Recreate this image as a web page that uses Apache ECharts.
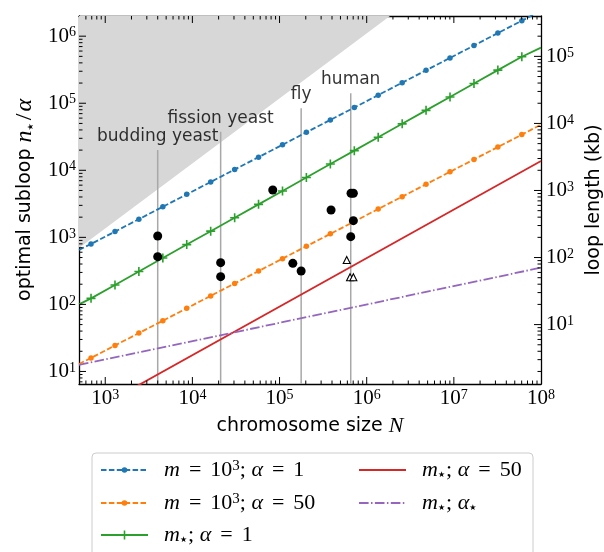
<!DOCTYPE html>
<html>
<head>
<meta charset="utf-8">
<script src="https://cdn.jsdelivr.net/npm/echarts@6/dist/echarts.min.js"></script>
<style>
  html, body { margin: 0; padding: 0; background: #fff; }
  #chart { width: 604px; height: 552px; }
</style>
</head>
<body>
<div id="chart"></div>
<script>
  // tick exponents (labels are 10^k)
  const xTickExp = [3, 4, 5, 6, 7, 8];
  const yTickExp = [1, 2, 3, 4, 5, 6];
  const kbTickExp = [1, 2, 3, 4, 5];

  // axis ranges; right axis is the left one in kb
  const xMin = 500, xMax = 1e8;
  const yMin = 6.5, yMax = 2e6;
  const kbPerUnit = 0.2;

  // marker positions shared by the three marked curves
  const markerN = [687, 1294, 2432, 4581, 8610, 16218, 30549, 57412, 108143, 203236,
    382825, 721107, 1355000, 2553000, 4797000, 9036000, 17020000, 31990000, 60260000];
  const blueY = [796, 1219, 1866, 2858, 4375, 6699, 10257, 15704, 24044, 36813,
    56364, 86298, 132130, 202302, 309742, 474242, 726106, 1111732, 1702159];
  const orangeY = [15.9, 24.4, 37.3, 57.1, 87.5, 134, 205, 314, 481, 736,
    1127, 1726, 2642, 4046, 6194, 9484, 14521, 22233, 34041];
  const greenY = [123, 195, 310, 492, 780, 1236, 1959, 3105, 4920, 7816,
    12388, 19634, 31117, 49317, 78343, 124165, 196789, 311889, 494311];
  // curve values at the left/right plot edges
  const edgeN = [500, 1e8];
  const blueEdgeY = [650, 2390000];
  const orangeEdgeY = [12.9, 47900];
  const greenEdgeY = [100, 676000];
  const redN = [500, 1e8];
  const redY = [2.0, 13800];
  const purpleN = [500, 1e5, 1e8];
  const purpleY = [12.5, 53.1, 353];
  // shaded forbidden region (above this line)
  const shadeN = [500, 1850000];
  const shadeY = [693, 2000000];

  // organisms
  const organisms = ['budding yeast', 'fission yeast', 'fly', 'human'];
  const orgN = [4000, 21100, 177000, 656000];
  const orgTop = [20100, 37700, 84100, 140600];
  const dotN = [4000, 4000, 21100, 21100, 83600, 142000, 177000, 390000, 661000, 703000, 703000, 656000];
  const dotY = [1047, 515, 419, 259, 5080, 410, 315, 2560, 4540, 4540, 1774, 1023];
  const triN = [590000, 644000, 703000];
  const triY = [459, 254, 254];

  const legendText = {
    blue: '{i|m}{op|=}10{sup|3}; {i|α}{op|=}1',
    orange: '{i|m}{op|=}10{sup|3}; {i|α}{op|=}50',
    green: '{i|m}{sub|★}; {i|α}{op|=}1',
    red: '{i|m}{sub|★}; {i|α}{op|=}50',
    purple: '{i|m}{sub|★}; {i|α}{sub|★}'
  };

  const SERIF = 'Liberation Serif';
  const SANS = 'DejaVu Sans';

  function pow10Label(exps) {
    return function (v) {
      const e = Math.round(Math.log10(v));
      if (Math.abs(Math.log10(v) - e) > 1e-6 || exps.indexOf(e) < 0) return '';
      return '{b|10}{sup|' + e + '}';
    };
  }
  const tickRich = {
    b: { fontFamily: SERIF, fontSize: 21, color: '#000' },
    sup: { fontFamily: SERIF, fontSize: 14, color: '#000', verticalAlign: 'top' }
  };

  // 1..9 x 10^k ticks strictly inside (lo, hi)
  function logTicks(lo, hi) {
    const out = [];
    for (let k = Math.floor(Math.log10(lo)); k <= Math.ceil(Math.log10(hi)); k++) {
      for (let m = 1; m <= 9; m++) {
        const v = m * Math.pow(10, k);
        if (v > lo && v < hi) out.push({ v: v, major: m === 1 ? 1 : 0 });
      }
    }
    return out;
  }

  function withEdges(xs, ys, ex, ey) {
    const pts = xs.map((x, i) => [x, ys[i]]);
    return [{ value: [ex[0], ey[0]], symbol: 'none' }]
      .concat(pts)
      .concat([{ value: [ex[1], ey[1]], symbol: 'none' }]);
  }

  const axisLine = { show: true, onZero: false, lineStyle: { color: '#000', width: 1.3 } };
  const MAJ = 7, MIN = 3.5;
  const tickStyle = { stroke: '#000', lineWidth: 1 };
  function tickLine(x1, y1, x2, y2) {
    return { type: 'line', shape: { x1: x1, y1: y1, x2: x2, y2: y2 }, style: tickStyle };
  }

  const chart = echarts.init(document.getElementById('chart'), null, { renderer: 'canvas' });

  const series = [];
  series.push({
    name: 'shade', type: 'line', z: 1, silent: true, symbol: 'none',
    data: shadeN.map((x, i) => [x, shadeY[i]]),
    lineStyle: { width: 0 },
    areaStyle: { origin: 'end', color: '#d7d7d7', opacity: 1 }
  });
  organisms.forEach((name, i) => {
    series.push({
      name: name, type: 'line', z: 2, silent: true, symbol: 'none',
      data: [[orgN[i], yMin], [orgN[i], orgTop[i]]],
      lineStyle: { color: '#a8a8a8', width: 1.5 }
    });
  });
  series.push({
    name: 'orgLabels', type: 'scatter', z: 6, silent: true, symbolSize: 0,
    data: organisms.map((name, i) => ({ name: name, value: [orgN[i], orgTop[i]] })),
    label: {
      show: true, position: 'top', distance: 5, formatter: '{b}',
      fontFamily: SANS, fontSize: 17, color: '#000'
    }
  });
  const plus = 'path://M4.1,0H5.9V4.1H10V5.9H5.9V10H4.1V5.9H0V4.1H4.1Z';
  series.push({
    name: 'blue', type: 'line', z: 3, data: withEdges(markerN, blueY, edgeN, blueEdgeY),
    symbol: 'circle', symbolSize: 5.5, showAllSymbol: true,
    itemStyle: { color: '#1f77b4', opacity: 1 },
    lineStyle: { color: '#1f77b4', width: 1.8, type: [5.5, 2.4] }
  });
  series.push({
    name: 'orange', type: 'line', z: 3, data: withEdges(markerN, orangeY, edgeN, orangeEdgeY),
    symbol: 'circle', symbolSize: 5.5, showAllSymbol: true,
    itemStyle: { color: '#ff7f0e', opacity: 1 },
    lineStyle: { color: '#ff7f0e', width: 1.8, type: [5.5, 2.4] }
  });
  series.push({
    name: 'green', type: 'line', z: 3, data: withEdges(markerN, greenY, edgeN, greenEdgeY),
    symbol: plus, symbolSize: 9, showAllSymbol: true,
    itemStyle: { color: '#2ca02c', opacity: 1 },
    lineStyle: { color: '#2ca02c', width: 1.8 }
  });
  series.push({
    name: 'red', type: 'line', z: 3, symbol: 'none',
    data: redN.map((x, i) => [x, redY[i]]),
    itemStyle: { color: '#d62728' },
    lineStyle: { color: '#d62728', width: 1.8 }
  });
  series.push({
    name: 'purple', type: 'line', z: 3, symbol: 'none',
    data: purpleN.map((x, i) => [x, purpleY[i]]),
    itemStyle: { color: '#9467bd' },
    lineStyle: { color: '#9467bd', width: 1.8, type: [9.6, 2.4, 1.5, 2.4] }
  });
  series.push({
    name: 'dots', type: 'scatter', z: 5, symbol: 'circle', symbolSize: 9,
    data: dotN.map((x, i) => [x, dotY[i]]),
    itemStyle: { color: '#000', opacity: 1 }
  });
  series.push({
    name: 'triangles', type: 'scatter', z: 5, symbol: 'triangle', symbolSize: 7,
    data: triN.map((x, i) => [x, triY[i]]),
    itemStyle: { color: '#fff', borderColor: '#000', borderWidth: 1.1, opacity: 1 }
  });

  // ticks, all pointing inward: bottom+top, left, right (kb)
  series.push({
    name: 'xTicks', type: 'custom', z: 7, silent: true, clip: false,
    encode: { x: 0, y: 1 },
    data: logTicks(xMin, xMax).map(t => [t.v, yMin, t.major]),
    renderItem: (params, api) => {
      const len = api.value(2) ? MAJ : MIN;
      const b = api.coord([api.value(0), yMin]);
      const t = api.coord([api.value(0), yMax]);
      return { type: 'group', children: [
        tickLine(b[0], b[1], b[0], b[1] - len),
        tickLine(t[0], t[1], t[0], t[1] + len)
      ] };
    }
  });
  series.push({
    name: 'yTicks', type: 'custom', z: 7, silent: true, clip: false,
    encode: { x: 0, y: 1 },
    data: logTicks(yMin, yMax).map(t => [xMin, t.v, t.major]),
    renderItem: (params, api) => {
      const len = api.value(2) ? MAJ : MIN;
      const p = api.coord([xMin, api.value(1)]);
      return tickLine(p[0], p[1], p[0] + len, p[1]);
    }
  });
  series.push({
    name: 'kbTicks', type: 'custom', z: 7, silent: true, clip: false,
    yAxisIndex: 1, encode: { x: 0, y: 1 },
    data: logTicks(yMin * kbPerUnit, yMax * kbPerUnit).map(t => [xMax, t.v, t.major]),
    renderItem: (params, api) => {
      const len = api.value(2) ? MAJ : MIN;
      const p = api.coord([xMax, api.value(1)]);
      return tickLine(p[0], p[1], p[0] - len, p[1]);
    }
  });

  const legendRich = {
    i: { fontFamily: SERIF, fontStyle: 'italic', fontSize: 22, color: '#000' },
    op: { fontFamily: SERIF, fontSize: 22, color: '#000', padding: [0, 9, 0, 9] },
    sup: { fontFamily: SERIF, fontSize: 15, color: '#000', verticalAlign: 'top' },
    sub: { fontFamily: SANS, fontSize: 8, color: '#000', verticalAlign: 'bottom', padding: [0, 1, 2, 0] }
  };
  // one legend component per entry so the two columns sit like the reference
  function legendItem(name, left, centerY, iconH, hideSymbol) {
    const l = {
      data: [name], orient: 'vertical', left: left, top: centerY - 13, padding: 0,
      itemWidth: 47, itemHeight: iconH, selectedMode: false,
      formatter: (n) => legendText[n],
      textStyle: { fontFamily: SERIF, fontSize: 22, color: '#000', padding: [0, 0, 0, 11], rich: legendRich }
    };
    if (hideSymbol) l.itemStyle = { color: 'rgba(0,0,0,0)', borderWidth: 0, opacity: 0 };
    return l;
  }

  chart.setOption({
    animation: false,
    backgroundColor: '#fff',
    grid: { left: 79, top: 16, width: 462, height: 368, outerBoundsMode: 'none', containLabel: false },
    graphic: [{
      type: 'rect', z: -1,
      shape: { x: 92, y: 453, width: 441, height: 110, r: 4 },
      style: { fill: '#fff', stroke: '#cccccc', lineWidth: 1 }
    }],
    legend: [
      legendItem('blue', 100, 472, 7, false),
      legendItem('orange', 100, 505, 7, false),
      legendItem('green', 100, 537, 11, false),
      legendItem('red', 358, 472, 10, true),
      legendItem('purple', 358, 505, 10, true)
    ],
    xAxis: [{
      type: 'log', logBase: 10, min: xMin, max: xMax, position: 'bottom',
      axisLine: axisLine, axisTick: { show: false }, minorTick: { show: false }, splitLine: { show: false },
      axisLabel: { interval: 0, margin: 4, formatter: pow10Label(xTickExp), rich: tickRich },
      name: 'chromosome size {i|N}', nameLocation: 'middle', nameGap: 31,
      nameTextStyle: {
        fontFamily: SANS, fontSize: 19, color: '#000',
        rich: { i: { fontFamily: SERIF, fontStyle: 'italic', fontSize: 22, color: '#000' } }
      }
    }, {
      type: 'log', logBase: 10, min: xMin, max: xMax, position: 'top',
      axisLine: axisLine, axisTick: { show: false }, minorTick: { show: false }, splitLine: { show: false },
      axisLabel: { show: false }
    }],
    yAxis: [{
      type: 'log', logBase: 10, min: yMin, max: yMax, position: 'left',
      axisLine: axisLine, axisTick: { show: false }, minorTick: { show: false }, splitLine: { show: false },
      axisLabel: { interval: 0, margin: 3, formatter: pow10Label(yTickExp), rich: tickRich },
      name: 'optimal subloop {i|n}{sub|★}{s|/}{i|α}', nameLocation: 'middle', nameGap: 41, nameRotate: 90,
      nameTextStyle: {
        fontFamily: SANS, fontSize: 19, color: '#000',
        rich: {
          i: { fontFamily: SERIF, fontStyle: 'italic', fontSize: 24, color: '#000' },
          s: { fontFamily: SERIF, fontSize: 24, color: '#000', padding: [0, 2, 0, 2] },
          sub: { fontFamily: SANS, fontSize: 8, color: '#000', verticalAlign: 'bottom', padding: [0, 1, 2, 0] }
        }
      }
    }, {
      type: 'log', logBase: 10, min: yMin * kbPerUnit, max: yMax * kbPerUnit, position: 'right',
      axisLine: axisLine, axisTick: { show: false }, minorTick: { show: false }, splitLine: { show: false },
      axisLabel: { interval: 0, margin: 5, formatter: pow10Label(kbTickExp), rich: tickRich },
      name: 'loop length (kb)', nameLocation: 'middle', nameGap: 37, nameRotate: 90,
      nameTextStyle: { fontFamily: SANS, fontSize: 19, color: '#000' }
    }],
    series: series
  });
</script>
</body>
</html>
